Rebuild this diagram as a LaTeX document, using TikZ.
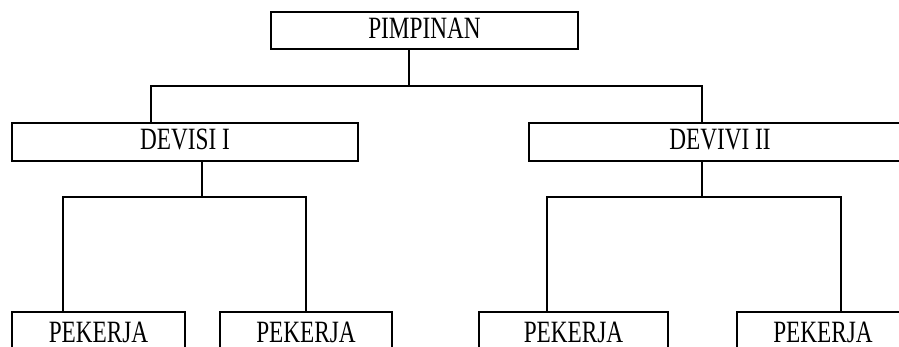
\documentclass[tikz,border=0pt]{standalone}
\usepackage{fontspec}
\setmainfont{Liberation Serif}
\newcommand{\orgtxt}[1]{\scalebox{0.75}[1]{#1}}
\begin{document}
\begin{tikzpicture}[x=1pt,y=-1pt,line width=1.6pt,
  orgbox/.style={draw=black,rectangle,inner sep=0pt,text height=16pt,text depth=0pt,
    font=\fontsize{31}{36}\selectfont},
  link/.style={draw=black,line width=1.6pt}]
\path[use as bounding box,clip] (0,0) rectangle (899,347);
\fill[white] (0,0) rectangle (899,347);
% boxes
\node[orgbox,minimum width=307pt,minimum height=37pt] (P) at (424.5,30.5) {\orgtxt{PIMPINAN}};
\node[orgbox,minimum width=346pt,minimum height=38pt] (D1) at (185,142) {\orgtxt{DEVISI I}};
\node[orgbox,minimum width=382pt,minimum height=38pt] (D2) at (720,142) {\orgtxt{DEVIVI II}};
\node[orgbox,minimum width=173pt,minimum height=44pt] (K1) at (98.5,334) {\orgtxt{PEKERJA}};
\node[orgbox,minimum width=172pt,minimum height=44pt] (K2) at (306,334) {\orgtxt{PEKERJA}};
\node[orgbox,minimum width=189pt,minimum height=44pt] (K3) at (573.5,334) {\orgtxt{PEKERJA}};
\node[orgbox,minimum width=172pt,minimum height=44pt] (K4) at (823,334) {\orgtxt{PEKERJA}};
% bus coordinates
\coordinate (b0) at (409,86);
\coordinate (b1) at (202,197);
\coordinate (b2) at (702,197);
% connectors
\draw[link] (P.south -| b0) -- (b0);
\draw[link] (D1.north -| 151,0) |- (b0) -| (D2.north -| 702,0);
\draw[link] (D1.south -| b1) -- (b1);
\draw[link] (K1.north -| 63,0) |- (b1) -| (K2.north -| 306,0);
\draw[link] (D2.south -| b2) -- (b2);
\draw[link] (K3.north -| 547,0) |- (b2) -| (K4.north -| 841,0);
\end{tikzpicture}
\end{document}
